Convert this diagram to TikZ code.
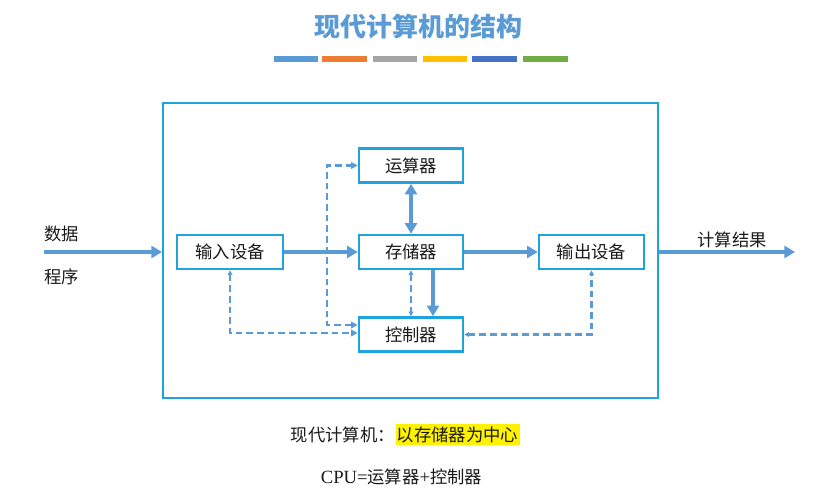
\documentclass[tikz,border=0pt]{standalone}
\usepackage{fontspec}
\setmainfont{Liberation Serif}
\newfontfamily\cjk{Noto Sans CJK SC}
\usetikzlibrary{arrows.meta}
\definecolor{framec}{HTML}{1FA3DC}
\definecolor{arrc}{HTML}{5B9BD5}
\definecolor{barA}{HTML}{5B9BD5}
\definecolor{barB}{HTML}{ED7D31}
\definecolor{barC}{HTML}{A5A5A5}
\definecolor{barD}{HTML}{FFC000}
\definecolor{barE}{HTML}{4472C4}
\definecolor{barF}{HTML}{70AD47}
\definecolor{txt}{HTML}{1A1A1A}
\tikzset{
  unitbox/.style={draw=framec, line width=1.9pt, fill=white, minimum width=78pt, minimum height=25.5pt, inner sep=0pt, font=\cjk\fontsize{13}{15}\selectfont, text=txt},
  outerframe/.style={draw=framec, line width=1.5pt, minimum width=371.25pt, minimum height=221.25pt, inner sep=0pt},
  thickarr/.style={draw=arrc, line width=3pt, -{Triangle[length=8pt,width=9pt]}},
  thickdbl/.style={draw=arrc, line width=3pt, {Triangle[length=8pt,width=9pt]}-{Triangle[length=8pt,width=9pt]}},
  dasharr/.style={draw=arrc, line width=1.6pt, dash pattern=on 5pt off 3pt},
  lbl/.style={font=\cjk\fontsize{13}{15}\selectfont, text=txt, inner sep=0pt},
  bar/.style={line width=4.5pt}
}
\begin{document}
\begin{tikzpicture}[x=0.75pt,y=-0.75pt]
\useasboundingbox (0,0) rectangle (833,496);
% title
\node[font=\cjk\bfseries\fontsize{19.5}{22}\selectfont, text=arrc] (title) at (418,27) {现代计算机的结构};
\draw[bar, barA] (274,58.5) -- (318,58.5);
\draw[bar, barB] (322,58.5) -- (367,58.5);
\draw[bar, barC] (373,58.5) -- (417,58.5);
\draw[bar, barD] (423,58.5) -- (467,58.5);
\draw[bar, barE] (472,58.5) -- (517,58.5);
\draw[bar, barF] (523,58.5) -- (568,58.5);
% outer frame
\node[outerframe] (frame) at (410.5,250.5) {};
% boxes
\node[unitbox] (alu) at (411,165.5) {运算器};
\node[unitbox] (mem) at (411,252) {存储器};
\node[unitbox] (ctl) at (411,334.5) {控制器};
\node[unitbox, minimum width=79.5pt] (inp) at (230,252) {输入设备};
\node[unitbox, minimum width=78.75pt] (out) at (591.5,252) {输出设备};
% outside labels
\node[lbl] (l1) at (62,234) {数据};
\node[lbl] (l2) at (62,277) {程序};
\node[lbl] (l3) at (732,240) {计算结果};
\coordinate (src) at (44,252);
\coordinate (dst) at (795,252);
% thick arrows
\draw[thickarr] (src) -- (frame.west |- inp);
\draw[thickarr] (inp) -- (mem);
\draw[thickarr] (mem) -- (out);
\draw[thickarr] (frame.east |- out) -- (dst);
\draw[thickdbl] (alu) -- (mem);
\draw[thickarr] ([xshift=16.5pt]mem.south) -- ([xshift=16.5pt]ctl.north);
% dashed control lines
\coordinate (c1) at (327,325);
\coordinate (c2) at (230,333);
\draw[dasharr, {Triangle[length=5pt,width=5pt]}-{Triangle[length=5pt,width=5pt]}] (ctl.west |- c1) -- (c1) -- (c1 |- alu) -- (alu.west);
\draw[dasharr, {Triangle[length=3.5pt,width=3.5pt]}-{Triangle[length=5pt,width=5pt]}] (inp.south) -- (inp.south |- c2) -- (ctl.west |- c2);
\draw[dasharr, {Triangle[length=3.5pt,width=3.5pt]}-{Triangle[length=3.5pt,width=3.5pt]}] (mem.south) -- (ctl.north);
\draw[dasharr, {Triangle[length=3.5pt,width=3.5pt]}-{Triangle[length=3.5pt,width=3.5pt]}] (ctl.east) -- (out.south |- ctl) -- (out.south);
% bottom notes
\node[lbl, fill=yellow, inner xsep=1pt, inner ysep=2pt] (hl) at (457.5,434.5) {以存储器为中心};
\node[lbl, anchor=east] (note) at (hl.west) {现代计算机：};
\node[lbl] (cpu) at (401.5,477) {{\rmfamily\fontsize{14}{16}\selectfont CPU=}运算器{\rmfamily\fontsize{14}{16}\selectfont +}控制器};
\end{tikzpicture}
\end{document}
